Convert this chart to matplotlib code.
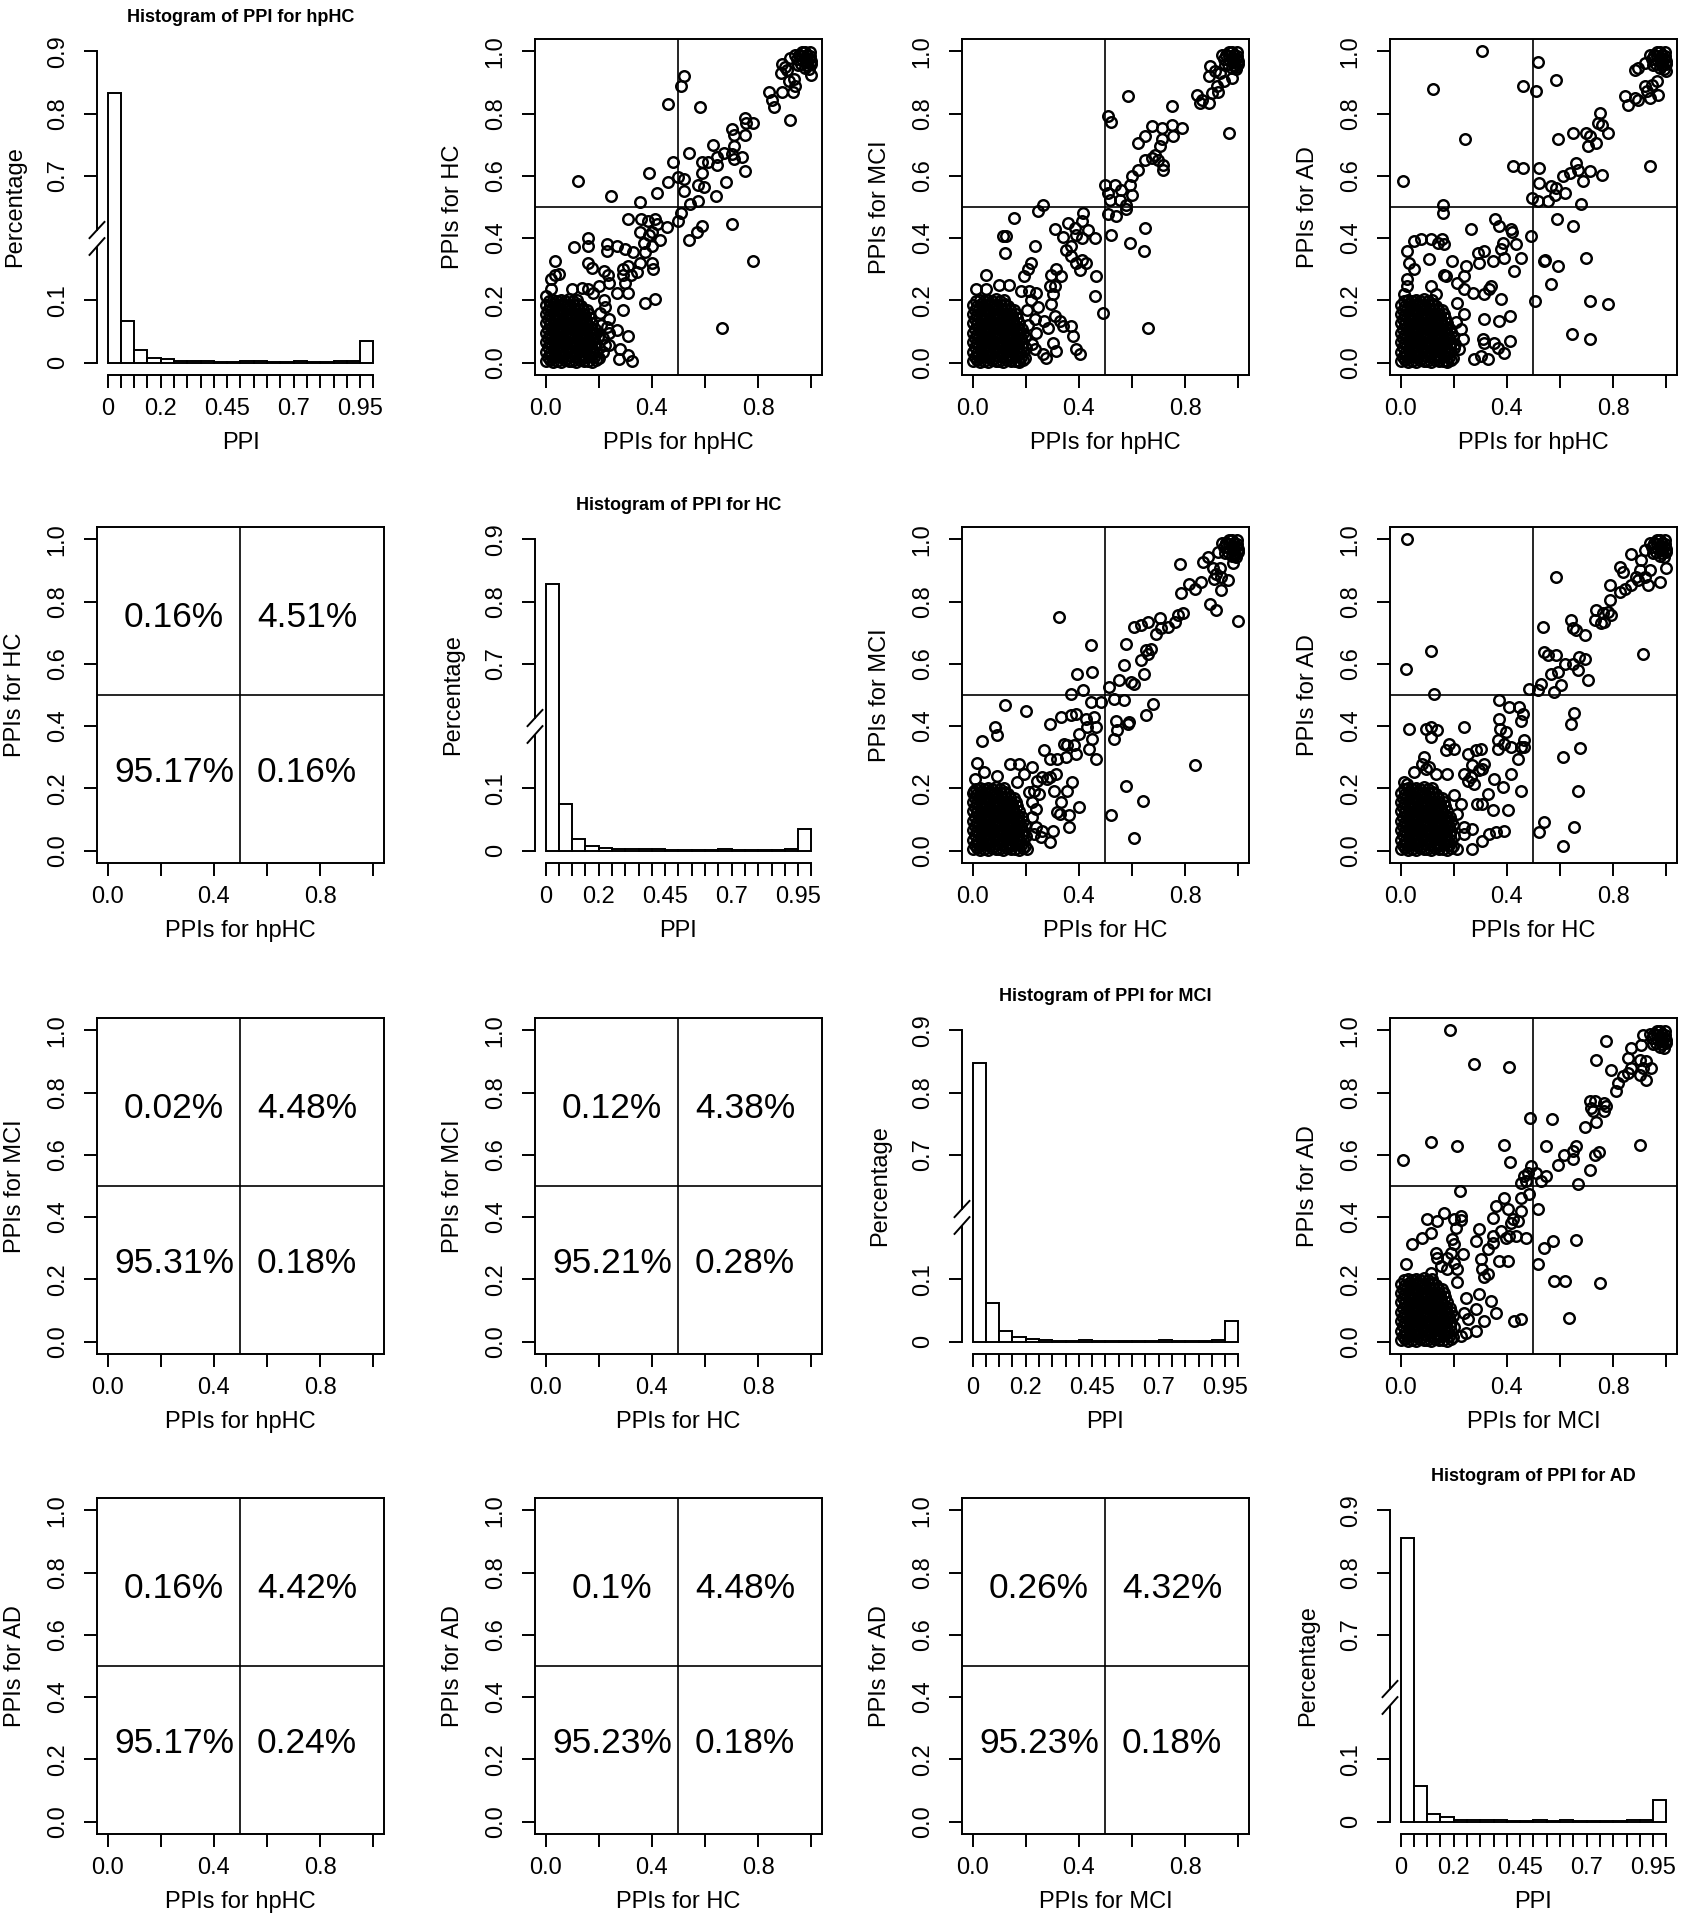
import numpy as np
import matplotlib
matplotlib.use("Agg")
import matplotlib.pyplot as plt
import matplotlib.transforms as mtransforms

plt.rcParams['font.family'] = ['Liberation Sans', 'DejaVu Sans']

groups = ["hpHC", "HC", "MCI", "AD"]

# histogram heights (fraction of PPIs), 20 bins of width 0.05 on [0, 1]
hist_hphc = [0.834, 0.067, 0.020, 0.008, 0.005, 0.002, 0.002, 0.002, 0.001, 0.001,
             0.002, 0.002, 0.001, 0.001, 0.002, 0.001, 0.001, 0.002, 0.002, 0.034]
hist_hc = [0.829, 0.075, 0.019, 0.008, 0.004, 0.002, 0.002, 0.002, 0.002, 0.001,
           0.001, 0.001, 0.001, 0.002, 0.001, 0.001, 0.001, 0.001, 0.002, 0.035]
hist_mci = [0.847, 0.062, 0.017, 0.008, 0.004, 0.002, 0.001, 0.001, 0.002, 0.001,
            0.001, 0.001, 0.001, 0.001, 0.002, 0.001, 0.001, 0.001, 0.003, 0.033]
hist_ad = [0.855, 0.057, 0.012, 0.007, 0.003, 0.002, 0.002, 0.002, 0.001, 0.001,
           0.002, 0.001, 0.002, 0.001, 0.001, 0.001, 0.001, 0.002, 0.002, 0.034]
hist_ticklabels = ["0", "", "", "", "0.2", "", "", "", "", "0.45", "", "", "", "",
                   "0.7", "", "", "", "", "0.95", ""]

# quadrant percentages: upper-left, upper-right, lower-left, lower-right
pct_hphc_hc = ["0.16%", "4.51%", "95.17%", "0.16%"]
pct_hphc_mci = ["0.02%", "4.48%", "95.31%", "0.18%"]
pct_hc_mci = ["0.12%", "4.38%", "95.21%", "0.28%"]
pct_hphc_ad = ["0.16%", "4.42%", "95.17%", "0.24%"]
pct_hc_ad = ["0.1%", "4.48%", "95.23%", "0.18%"]
pct_mci_ad = ["0.26%", "4.32%", "95.23%", "0.18%"]

# dense cloud of PPIs near (0, 0), seen in every scatter panel
origin_cluster = [
    (0.002, 0.004), (0.016, 0.007), (0.029, 0.002), (0.044, 0.006), (0.058, 0.003), (0.073, 0.008), (0.087, 0.004),
    (0.101, 0.006), (0.116, 0.002), (0.131, 0.007), (0.145, 0.004), (0.160, 0.006), (0.176, 0.003), (0.190, 0.008),
    (0.008, 0.018), (0.022, 0.021), (0.036, 0.017), (0.051, 0.022), (0.066, 0.019), (0.080, 0.016), (0.094, 0.022),
    (0.109, 0.019), (0.124, 0.017), (0.138, 0.021), (0.153, 0.018), (0.168, 0.022), (0.183, 0.019), (0.198, 0.016),
    (0.003, 0.035), (0.017, 0.032), (0.031, 0.037), (0.046, 0.033), (0.060, 0.036), (0.075, 0.031), (0.089, 0.035),
    (0.104, 0.038), (0.118, 0.032), (0.133, 0.036), (0.147, 0.033), (0.162, 0.037), (0.177, 0.032), (0.191, 0.035),
    (0.009, 0.049), (0.023, 0.052), (0.038, 0.048), (0.052, 0.051), (0.067, 0.053), (0.081, 0.047), (0.096, 0.051),
    (0.110, 0.049), (0.125, 0.053), (0.140, 0.048), (0.154, 0.052), (0.169, 0.049), (0.184, 0.051), (0.199, 0.047),
    (0.002, 0.066), (0.016, 0.063), (0.030, 0.067), (0.045, 0.062), (0.059, 0.065), (0.074, 0.068), (0.088, 0.063),
    (0.103, 0.066), (0.117, 0.062), (0.132, 0.067), (0.146, 0.064), (0.161, 0.061), (0.176, 0.066), (0.190, 0.063),
    (0.008, 0.079), (0.023, 0.082), (0.037, 0.078), (0.052, 0.081), (0.066, 0.077), (0.081, 0.083), (0.095, 0.079),
    (0.110, 0.081), (0.124, 0.078), (0.139, 0.082), (0.153, 0.079), (0.168, 0.083), (0.183, 0.078), (0.197, 0.081),
    (0.003, 0.096), (0.017, 0.093), (0.031, 0.097), (0.046, 0.094), (0.060, 0.098), (0.074, 0.092), (0.089, 0.096),
    (0.104, 0.093), (0.118, 0.097), (0.132, 0.095), (0.147, 0.092), (0.162, 0.097), (0.176, 0.094), (0.191, 0.096),
    (0.009, 0.109), (0.024, 0.112), (0.038, 0.108), (0.053, 0.111), (0.067, 0.107), (0.082, 0.113), (0.096, 0.109),
    (0.111, 0.111), (0.125, 0.108), (0.140, 0.112), (0.154, 0.109), (0.169, 0.111), (0.184, 0.107),
    (0.002, 0.126), (0.016, 0.123), (0.031, 0.127), (0.045, 0.124), (0.060, 0.128), (0.074, 0.122), (0.089, 0.126),
    (0.103, 0.124), (0.118, 0.127), (0.132, 0.123), (0.147, 0.126), (0.161, 0.122), (0.176, 0.127),
    (0.008, 0.139), (0.023, 0.142), (0.037, 0.138), (0.052, 0.141), (0.066, 0.137), (0.081, 0.143), (0.095, 0.139),
    (0.110, 0.142), (0.124, 0.138), (0.139, 0.141), (0.153, 0.137), (0.168, 0.142),
    (0.003, 0.156), (0.017, 0.153), (0.032, 0.157), (0.046, 0.154), (0.061, 0.158), (0.075, 0.152), (0.090, 0.156),
    (0.104, 0.153), (0.119, 0.157), (0.133, 0.154), (0.148, 0.152), (0.162, 0.157),
    (0.009, 0.169), (0.024, 0.172), (0.038, 0.168), (0.053, 0.171), (0.067, 0.167), (0.082, 0.173), (0.096, 0.169),
    (0.111, 0.171), (0.126, 0.168), (0.140, 0.172), (0.155, 0.169),
    (0.003, 0.186), (0.018, 0.183), (0.032, 0.187), (0.047, 0.184), (0.061, 0.188), (0.076, 0.182), (0.090, 0.186),
    (0.105, 0.184), (0.120, 0.187), (0.134, 0.183),
    (0.011, 0.199), (0.026, 0.202), (0.041, 0.198), (0.057, 0.201), (0.072, 0.197), (0.088, 0.203), (0.103, 0.199),
    (0.119, 0.201),
]

# dense cloud near (1, 1)
corner_cluster = [
    (0.995, 0.998), (0.985, 0.990), (0.975, 0.997), (0.965, 0.985), (0.990, 0.975), (0.980, 0.965), (0.995, 0.985),
    (0.970, 0.970), (0.955, 0.990), (0.960, 0.960), (0.985, 0.955), (0.997, 0.960), (0.945, 0.975), (0.975, 0.948),
    (0.950, 0.955), (0.990, 0.945), (0.965, 0.998), (0.980, 0.980), (0.998, 0.970), (0.940, 0.990),
]

pts_hphc_hc = [
    (0.92, 0.98), (0.90, 0.95), (0.89, 0.96), (0.91, 0.94), (1.0, 0.925), (0.935, 0.91), (0.915, 0.905), (0.94, 0.89),
    (0.93, 0.87), (0.885, 0.93), (0.89, 0.87), (0.84, 0.87), (0.85, 0.845), (0.86, 0.82), (0.92, 0.78),
    (0.52, 0.92), (0.51, 0.89), (0.46, 0.83), (0.58, 0.82),
    (0.75, 0.785), (0.755, 0.77), (0.78, 0.77), (0.70, 0.75), (0.75, 0.73), (0.71, 0.73), (0.63, 0.70), (0.71, 0.695),
    (0.67, 0.675), (0.70, 0.67), (0.74, 0.66), (0.71, 0.655), (0.75, 0.615), (0.645, 0.66), (0.645, 0.635),
    (0.61, 0.645), (0.59, 0.645), (0.59, 0.61), (0.54, 0.675), (0.48, 0.645), (0.50, 0.595), (0.52, 0.59),
    (0.46, 0.58), (0.52, 0.55), (0.575, 0.57), (0.595, 0.565), (0.68, 0.58), (0.64, 0.535), (0.575, 0.52),
    (0.545, 0.51), (0.39, 0.61), (0.42, 0.545), (0.355, 0.515), (0.245, 0.535), (0.12, 0.585),
    (0.51, 0.48), (0.50, 0.455), (0.59, 0.44), (0.57, 0.42), (0.54, 0.395), (0.70, 0.445), (0.78, 0.325), (0.665, 0.11),
    (0.31, 0.46), (0.36, 0.46), (0.385, 0.455), (0.41, 0.46), (0.42, 0.445), (0.455, 0.435), (0.355, 0.42),
    (0.40, 0.42), (0.43, 0.395), (0.39, 0.41), (0.37, 0.385), (0.40, 0.375), (0.375, 0.355), (0.355, 0.32),
    (0.40, 0.32), (0.405, 0.30), (0.33, 0.355), (0.30, 0.365), (0.27, 0.375), (0.23, 0.38), (0.23, 0.36),
    (0.16, 0.40), (0.16, 0.375), (0.105, 0.37), (0.035, 0.325), (0.035, 0.28), (0.05, 0.285), (0.02, 0.27),
    (0.16, 0.32), (0.175, 0.305), (0.22, 0.295), (0.235, 0.28), (0.24, 0.255), (0.20, 0.245), (0.29, 0.30),
    (0.31, 0.31), (0.29, 0.28), (0.32, 0.28), (0.30, 0.255), (0.345, 0.29), (0.31, 0.225), (0.27, 0.225),
    (0.375, 0.19), (0.41, 0.205), (0.29, 0.17), (0.27, 0.105), (0.31, 0.085), (0.28, 0.045), (0.275, 0.01),
    (0.31, 0.025), (0.325, 0.005), (0.24, 0.055),
    (0.10, 0.235), (0.135, 0.24), (0.16, 0.235), (0.18, 0.225), (0.22, 0.20), (0.225, 0.18), (0.24, 0.14),
    (0.24, 0.095), (0.225, 0.055), (0.20, 0.015), (0.0, 0.215), (0.02, 0.235), (0.21, 0.12), (0.215, 0.08),
    (0.205, 0.16), (0.23, 0.115), (0.215, 0.035),
]

pts_hphc_mci = [
    (0.894, 0.952), (0.888, 0.92), (0.913, 0.936), (0.93, 0.93), (0.92, 0.89), (0.945, 0.904), (0.925, 0.87),
    (0.90, 0.866), (0.976, 0.915), (0.99, 0.95), (0.844, 0.861), (0.863, 0.845), (0.888, 0.834), (0.856, 0.834),
    (0.963, 0.738), (0.586, 0.858), (0.749, 0.826), (0.51, 0.794), (0.52, 0.772),
    (0.674, 0.759), (0.711, 0.754), (0.749, 0.765), (0.787, 0.754), (0.755, 0.727), (0.711, 0.717), (0.705, 0.695),
    (0.649, 0.727), (0.623, 0.706), (0.718, 0.636), (0.718, 0.62), (0.686, 0.668), (0.674, 0.658), (0.649, 0.652),
    (0.699, 0.652), (0.623, 0.62), (0.598, 0.599), (0.592, 0.572), (0.56, 0.556), (0.598, 0.54), (0.554, 0.524),
    (0.579, 0.508), (0.579, 0.492), (0.535, 0.572), (0.51, 0.545), (0.497, 0.572), (0.516, 0.524),
    (0.51, 0.476), (0.541, 0.47), (0.522, 0.411), (0.592, 0.385), (0.649, 0.433), (0.646, 0.358), (0.661, 0.112),
    (0.49, 0.16),
    (0.264, 0.508), (0.246, 0.486), (0.157, 0.465), (0.113, 0.406), (0.126, 0.406), (0.12, 0.353), (0.233, 0.374),
    (0.05, 0.283), (0.309, 0.428), (0.34, 0.405), (0.359, 0.449), (0.384, 0.433), (0.416, 0.481), (0.41, 0.454),
    (0.435, 0.427), (0.46, 0.401), (0.41, 0.401), (0.39, 0.411), (0.372, 0.374), (0.353, 0.363), (0.372, 0.342),
    (0.39, 0.32), (0.41, 0.33), (0.428, 0.32), (0.403, 0.296), (0.466, 0.278), (0.46, 0.214), (0.334, 0.278),
    (0.315, 0.30), (0.296, 0.283), (0.29, 0.246), (0.309, 0.246), (0.302, 0.22), (0.296, 0.187), (0.309, 0.15),
    (0.328, 0.134), (0.34, 0.118), (0.372, 0.118), (0.378, 0.086), (0.39, 0.043), (0.403, 0.027), (0.302, 0.064),
    (0.315, 0.037), (0.277, 0.016), (0.264, 0.027), (0.233, 0.043), (0.208, 0.30), (0.22, 0.32), (0.195, 0.278),
    (0.27, 0.134), (0.283, 0.112), (0.17, 0.005),
    (0.013, 0.235), (0.05, 0.235), (0.10, 0.25), (0.138, 0.25), (0.183, 0.23), (0.214, 0.23), (0.239, 0.225),
    (0.246, 0.18), (0.233, 0.14), (0.239, 0.096), (0.22, 0.2), (0.225, 0.06), (0.21, 0.12), (0.205, 0.17),
]

pts_hphc_ad = [
    (0.894, 0.947), (0.882, 0.941), (0.919, 0.963), (0.963, 0.904), (0.945, 0.893), (0.919, 0.888), (0.926, 0.872),
    (0.938, 0.85), (0.97, 0.861), (1.0, 0.936), (0.844, 0.856), (0.856, 0.829), (0.894, 0.845), (0.882, 0.85),
    (0.938, 0.631),
    (0.305, 1.0), (0.516, 0.965), (0.51, 0.872), (0.583, 0.909), (0.462, 0.89), (0.122, 0.879), (0.242, 0.717),
    (0.009, 0.583), (0.422, 0.631), (0.462, 0.626), (0.519, 0.626), (0.522, 0.578), (0.496, 0.53), (0.516, 0.519),
    (0.161, 0.508), (0.161, 0.481),
    (0.749, 0.802), (0.743, 0.77), (0.756, 0.765), (0.78, 0.738), (0.699, 0.738), (0.712, 0.727), (0.737, 0.706),
    (0.706, 0.695), (0.649, 0.738), (0.592, 0.717), (0.661, 0.642), (0.667, 0.62), (0.636, 0.61), (0.611, 0.599),
    (0.686, 0.583), (0.712, 0.615), (0.756, 0.604), (0.68, 0.51), (0.617, 0.546), (0.586, 0.561), (0.567, 0.567),
    (0.58, 0.54), (0.554, 0.519),
    (0.589, 0.46), (0.649, 0.439), (0.538, 0.326), (0.542, 0.33), (0.592, 0.31), (0.699, 0.337), (0.567, 0.251),
    (0.504, 0.198), (0.712, 0.198), (0.781, 0.187), (0.646, 0.091), (0.714, 0.075),
    (0.491, 0.406), (0.355, 0.46), (0.372, 0.439), (0.416, 0.428), (0.418, 0.42), (0.434, 0.38), (0.385, 0.385),
    (0.453, 0.337), (0.428, 0.294), (0.39, 0.337), (0.378, 0.364), (0.346, 0.326), (0.315, 0.358), (0.29, 0.353),
    (0.296, 0.321), (0.264, 0.428), (0.246, 0.31), (0.239, 0.278), (0.214, 0.257), (0.239, 0.235), (0.271, 0.225),
    (0.315, 0.219), (0.334, 0.235), (0.34, 0.246), (0.378, 0.203), (0.41, 0.15), (0.372, 0.134), (0.312, 0.139),
    (0.309, 0.075), (0.315, 0.064), (0.353, 0.064), (0.365, 0.048), (0.39, 0.032), (0.41, 0.07), (0.327, 0.011),
    (0.302, 0.021), (0.277, 0.011), (0.195, 0.326), (0.17, 0.278), (0.164, 0.283), (0.107, 0.332), (0.113, 0.396),
    (0.139, 0.385), (0.157, 0.396), (0.164, 0.38), (0.076, 0.396), (0.05, 0.39), (0.025, 0.358), (0.031, 0.321),
    (0.05, 0.30), (0.025, 0.267), (0.025, 0.246), (0.013, 0.219), (0.113, 0.246), (0.132, 0.219),
    (0.214, 0.193), (0.239, 0.155), (0.227, 0.107), (0.233, 0.075), (0.22, 0.043), (0.17, 0.005), (0.21, 0.13),
    (0.205, 0.06),
]

pts_hc_mci = [
    (0.955, 0.987), (0.923, 0.96), (0.885, 0.944), (0.866, 0.928), (0.904, 0.907), (0.929, 0.907), (0.917, 0.89),
    (0.91, 0.874), (0.936, 0.88), (0.961, 0.869), (0.936, 0.837), (0.98, 0.923), (0.986, 0.95), (0.782, 0.92),
    (0.892, 0.794), (0.917, 0.773), (0.999, 0.738), (0.785, 0.828), (0.816, 0.858), (0.835, 0.842), (0.86, 0.864),
    (0.325, 0.751),
    (0.791, 0.762), (0.772, 0.756), (0.76, 0.735), (0.735, 0.719), (0.704, 0.746), (0.709, 0.714), (0.69, 0.697),
    (0.659, 0.735), (0.634, 0.724), (0.608, 0.719), (0.652, 0.644), (0.671, 0.649), (0.634, 0.612), (0.646, 0.569),
    (0.659, 0.633), (0.577, 0.665), (0.571, 0.596), (0.551, 0.547), (0.596, 0.542), (0.608, 0.536), (0.514, 0.526),
    (0.533, 0.488), (0.571, 0.483), (0.445, 0.66), (0.45, 0.574), (0.392, 0.569), (0.369, 0.504), (0.417, 0.515),
    (0.482, 0.477), (0.445, 0.477), (0.457, 0.429), (0.432, 0.397), (0.463, 0.397), (0.45, 0.359), (0.438, 0.327),
    (0.463, 0.295), (0.426, 0.424), (0.4, 0.376), (0.389, 0.44), (0.369, 0.435), (0.331, 0.429), (0.293, 0.408),
    (0.381, 0.338), (0.356, 0.338), (0.344, 0.343), (0.388, 0.311), (0.35, 0.30), (0.319, 0.295), (0.293, 0.295),
    (0.268, 0.322), (0.539, 0.418), (0.583, 0.408), (0.589, 0.413), (0.545, 0.386), (0.533, 0.359), (0.652, 0.435),
    (0.678, 0.472), (0.835, 0.274), (0.577, 0.209), (0.64, 0.159), (0.52, 0.115), (0.608, 0.04),
    (0.123, 0.467), (0.199, 0.448), (0.086, 0.397), (0.092, 0.37), (0.035, 0.352), (0.016, 0.281), (0.142, 0.279),
    (0.174, 0.279), (0.224, 0.27), (0.193, 0.247), (0.312, 0.247), (0.281, 0.231), (0.293, 0.236), (0.262, 0.236),
    (0.243, 0.225), (0.375, 0.22), (0.356, 0.193), (0.306, 0.193), (0.331, 0.156), (0.4, 0.14), (0.319, 0.123),
    (0.33, 0.118), (0.363, 0.113), (0.363, 0.075), (0.304, 0.064), (0.293, 0.027), (0.256, 0.043), (0.262, 0.064),
    (0.23, 0.054), (0.205, 0.005), (0.23, 0.193), (0.249, 0.182), (0.212, 0.188), (0.224, 0.156), (0.237, 0.134),
    (0.224, 0.107), (0.237, 0.075), (0.092, 0.241), (0.042, 0.252), (0.01, 0.231), (0.004, 0.193), (0.168, 0.22),
]

pts_hc_ad = [
    (0.918, 0.966), (0.868, 0.953), (0.906, 0.933), (1.0, 0.907), (0.824, 0.91), (0.836, 0.896), (0.899, 0.901),
    (0.887, 0.88), (0.918, 0.88), (0.937, 0.901), (0.931, 0.853), (0.975, 0.864), (0.893, 0.869), (0.868, 0.853),
    (0.843, 0.842), (0.824, 0.832), (0.786, 0.853), (0.912, 0.633),
    (0.023, 1.0), (0.585, 0.88), (0.021, 0.583), (0.113, 0.642), (0.126, 0.504),
    (0.786, 0.805), (0.78, 0.767), (0.792, 0.757), (0.761, 0.762), (0.736, 0.773), (0.73, 0.74), (0.767, 0.735),
    (0.755, 0.73), (0.642, 0.74), (0.648, 0.714), (0.66, 0.708), (0.692, 0.692), (0.535, 0.719), (0.541, 0.638),
    (0.553, 0.627), (0.585, 0.627), (0.692, 0.617), (0.673, 0.622), (0.648, 0.601), (0.617, 0.601), (0.667, 0.58),
    (0.704, 0.547), (0.566, 0.569), (0.591, 0.574), (0.528, 0.536), (0.579, 0.51), (0.604, 0.531), (0.516, 0.515),
    (0.484, 0.52),
    (0.654, 0.441), (0.642, 0.408), (0.676, 0.329), (0.61, 0.30), (0.667, 0.193), (0.541, 0.091), (0.522, 0.061),
    (0.654, 0.075), (0.61, 0.016),
    (0.371, 0.483), (0.409, 0.461), (0.447, 0.461), (0.459, 0.44), (0.453, 0.418), (0.371, 0.424), (0.375, 0.391),
    (0.396, 0.38), (0.465, 0.356), (0.365, 0.354), (0.39, 0.343), (0.365, 0.327), (0.415, 0.333), (0.453, 0.333),
    (0.466, 0.333), (0.44, 0.295), (0.415, 0.247), (0.453, 0.193), (0.384, 0.204), (0.352, 0.231), (0.403, 0.129),
    (0.346, 0.129), (0.327, 0.182), (0.308, 0.15), (0.289, 0.15), (0.283, 0.322), (0.302, 0.327), (0.252, 0.311),
    (0.314, 0.279), (0.27, 0.274), (0.296, 0.258), (0.308, 0.263), (0.239, 0.247), (0.252, 0.225), (0.264, 0.236),
    (0.277, 0.215), (0.239, 0.397), (0.182, 0.343), (0.201, 0.327), (0.17, 0.322), (0.113, 0.397), (0.094, 0.392),
    (0.138, 0.386), (0.113, 0.365), (0.031, 0.392), (0.088, 0.30), (0.082, 0.279), (0.094, 0.263), (0.107, 0.27),
    (0.05, 0.252), (0.132, 0.247), (0.176, 0.247), (0.013, 0.22), (0.025, 0.215), (0.27, 0.07), (0.27, 0.005),
    (0.308, 0.032), (0.333, 0.054), (0.358, 0.059), (0.39, 0.064), (0.214, 0.005), (0.239, 0.054), (0.239, 0.075),
    (0.214, 0.118), (0.226, 0.15), (0.201, 0.177),
]

pts_mci_ad = [
    (0.912, 0.986), (0.868, 0.943), (0.855, 0.911), (0.906, 0.954), (0.899, 0.906), (0.925, 0.901), (0.943, 0.879),
    (0.912, 0.879), (0.899, 0.858), (0.925, 0.842), (0.868, 0.879), (0.855, 0.863), (0.836, 0.852), (0.818, 0.831),
    (0.811, 0.804), (0.792, 0.872), (0.774, 0.965), (0.736, 0.906), (0.899, 0.633),
    (0.186, 1.0), (0.277, 0.892), (0.409, 0.881), (0.009, 0.583), (0.116, 0.642), (0.211, 0.63), (0.39, 0.633),
    (0.41, 0.576), (0.486, 0.719), (0.57, 0.716), (0.224, 0.483),
    (0.711, 0.772), (0.73, 0.772), (0.717, 0.75), (0.767, 0.767), (0.774, 0.756), (0.767, 0.74), (0.723, 0.74),
    (0.692, 0.69), (0.736, 0.706), (0.73, 0.599), (0.748, 0.61), (0.711, 0.552), (0.66, 0.628), (0.648, 0.612),
    (0.648, 0.586), (0.616, 0.599), (0.591, 0.569), (0.667, 0.508), (0.547, 0.628), (0.547, 0.531), (0.528, 0.515),
    (0.509, 0.542), (0.491, 0.563), (0.478, 0.542), (0.465, 0.531), (0.453, 0.51), (0.472, 0.515), (0.484, 0.473),
    (0.516, 0.425), (0.572, 0.323), (0.541, 0.302), (0.66, 0.328), (0.516, 0.248), (0.579, 0.195), (0.619, 0.195),
    (0.752, 0.188), (0.635, 0.077),
    (0.39, 0.462), (0.453, 0.462), (0.403, 0.425), (0.358, 0.436), (0.346, 0.398), (0.421, 0.393), (0.44, 0.388),
    (0.415, 0.382), (0.453, 0.419), (0.377, 0.356), (0.409, 0.34), (0.396, 0.334), (0.434, 0.34), (0.472, 0.334),
    (0.346, 0.34), (0.346, 0.318), (0.327, 0.297), (0.296, 0.361), (0.283, 0.323), (0.302, 0.265), (0.308, 0.233),
    (0.327, 0.217), (0.314, 0.206), (0.371, 0.259), (0.403, 0.259), (0.226, 0.403), (0.226, 0.39), (0.201, 0.393),
    (0.208, 0.366), (0.164, 0.414), (0.138, 0.388), (0.113, 0.35), (0.082, 0.334), (0.044, 0.313), (0.101, 0.393),
    (0.195, 0.329), (0.201, 0.313), (0.233, 0.281), (0.189, 0.286), (0.201, 0.254), (0.176, 0.27), (0.132, 0.286),
    (0.138, 0.27), (0.151, 0.243), (0.176, 0.232), (0.019, 0.248), (0.113, 0.221), (0.214, 0.19), (0.214, 0.232),
    (0.296, 0.152), (0.283, 0.104), (0.245, 0.141), (0.34, 0.131), (0.358, 0.093), (0.314, 0.066), (0.283, 0.034),
    (0.428, 0.066), (0.453, 0.072), (0.245, 0.029), (0.226, 0.018), (0.239, 0.093), (0.252, 0.072),
]

hists = {0: hist_hphc, 1: hist_hc, 2: hist_mci, 3: hist_ad}
scatters = {(0, 1): pts_hphc_hc, (0, 2): pts_hphc_mci, (0, 3): pts_hphc_ad,
            (1, 2): pts_hc_mci, (1, 3): pts_hc_ad, (2, 3): pts_mci_ad}
tables = {(1, 0): pct_hphc_hc, (2, 0): pct_hphc_mci, (2, 1): pct_hc_mci,
          (3, 0): pct_hphc_ad, (3, 1): pct_hc_ad, (3, 2): pct_mci_ad}

# layout in pixels (box of each panel)
FW, FH = 1683, 1920
box_left = [97, 535, 962, 1390]
box_top = [39, 527, 1018, 1498]
BW, BH = 287, 336

TICK_FS = 17
LAB_FS = 17
LW = 1.4

fig = plt.figure(figsize=(FW / 100, FH / 100), dpi=100)
fig.patch.set_facecolor("white")


def make_axes(r, c):
    return fig.add_axes([box_left[c] / FW, 1 - (box_top[r] + BH) / FH, BW / FW, BH / FH])


def style_labels(ax, xlabel, ylabel):
    ax.set_xlabel(xlabel, fontsize=LAB_FS)
    ax.set_ylabel(ylabel, fontsize=LAB_FS)
    ax.xaxis.set_label_coords(0.5, -68 / BH)
    ax.xaxis.label.set_va("center")
    ax.yaxis.set_label_coords(-82 / BW, 0.5)
    ax.yaxis.label.set_va("center")
    ax.tick_params(axis="both", direction="out", length=9.4, width=LW, labelsize=TICK_FS)
    ax.tick_params(axis="x", pad=7)
    ax.tick_params(axis="y", pad=11)
    for lbl in ax.get_yticklabels():
        lbl.set_rotation(90)
        lbl.set_va("center")


def box_panel(ax, xg, yg):
    ax.set_xlim(-0.04, 1.04)
    ax.set_ylim(-0.04, 1.04)
    ticks = [0.0, 0.2, 0.4, 0.6, 0.8, 1.0]
    ax.set_xticks(ticks)
    ax.set_xticklabels(["0.0", "", "0.4", "", "0.8", ""])
    ax.set_yticks(ticks)
    ax.set_yticklabels(["0.0", "0.2", "0.4", "0.6", "0.8", "1.0"])
    for sp in ax.spines.values():
        sp.set_linewidth(LW)
    ax.axvline(0.5, color="black", lw=1.2)
    ax.axhline(0.5, color="black", lw=1.2)
    style_labels(ax, f"PPIs for {xg}", f"PPIs for {yg}")


def brk_fwd(v):
    v = np.asarray(v, dtype=float)
    return np.where(v < 0.2, v, np.where(v < 0.6, 0.2, v - 0.4))


def brk_inv(u):
    u = np.asarray(u, dtype=float)
    return np.where(u < 0.2, u, u + 0.4)


edges = np.linspace(0, 1, 21)

for r in range(4):
    for c in range(4):
        ax = make_axes(r, c)
        if r == c:
            heights = hists[r]
            ax.set_yscale("function", functions=(brk_fwd, brk_inv))
            ax.bar(edges[:-1], heights, width=0.05, align="edge", facecolor="white",
                   edgecolor="black", linewidth=LW)
            ax.set_xlim(-0.04, 1.04)
            ax.set_ylim(-0.02, 0.92)
            ax.set_xticks(edges)
            ax.set_xticklabels(hist_ticklabels)
            ax.set_yticks([0, 0.1, 0.7, 0.8, 0.9])
            ax.set_yticklabels(["0", "0.1", "0.7", "0.8", "0.9"])
            for side in ["top", "right", "left"]:
                ax.spines[side].set_visible(False)
            ax.spines["bottom"].set_bounds(0, 1)
            ax.spines["bottom"].set_linewidth(LW)
            # broken y axis
            tr = mtransforms.blended_transform_factory(ax.transAxes, ax.transData)
            ax.plot([0, 0], [0, 0.186], color="black", lw=LW, transform=tr, clip_on=False)
            ax.plot([0, 0], [0.613, 0.9], color="black", lw=LW, transform=tr, clip_on=False)
            ax.plot([-0.026, 0.026], [0.173, 0.2], color="black", lw=LW, transform=tr, clip_on=False)
            ax.plot([-0.026, 0.026], [0.6, 0.626], color="black", lw=LW, transform=tr, clip_on=False)
            ax.set_title(f"Histogram of PPI for {groups[r]}", fontsize=13, fontweight="bold", pad=12)
            style_labels(ax, "PPI", "Percentage")
        elif c > r:
            pts = origin_cluster + corner_cluster + scatters[(r, c)]
            xs = [p[0] for p in pts]
            ys = [p[1] for p in pts]
            ax.plot(xs, ys, "o", ms=7.6, mfc="none", mec="black", mew=1.75, clip_on=False)
            box_panel(ax, groups[r], groups[c])
        else:
            box_panel(ax, groups[c], groups[r])
            labels = tables[(r, c)]
            for (tx, ty), txt in zip([(0.25, 0.75), (0.75, 0.75), (0.25, 0.25), (0.75, 0.25)], labels):
                ax.text(tx, ty, txt, ha="center", va="center", fontsize=25.5)

fig.savefig("out.png", dpi=100)
